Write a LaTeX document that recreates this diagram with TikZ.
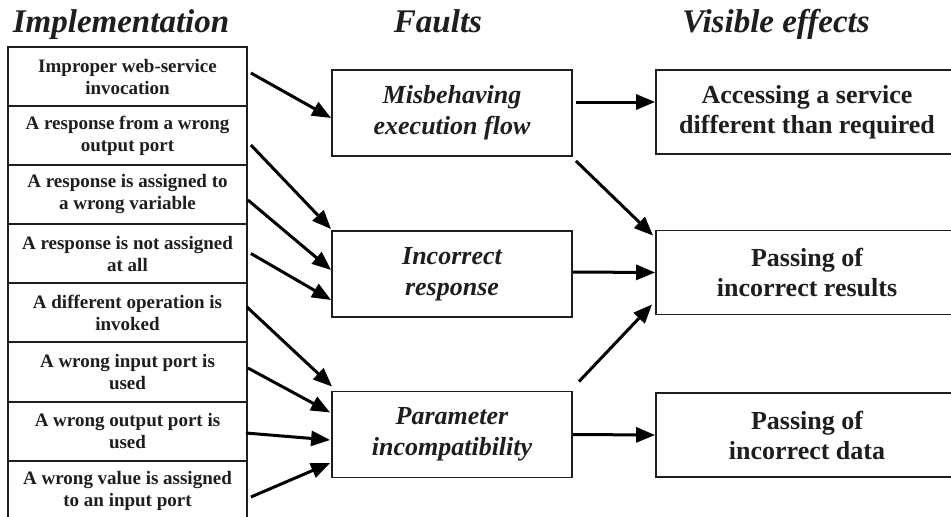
\documentclass[tikz,border=0pt]{standalone}
\usepackage{fontspec}
\setmainfont{Liberation Serif}
\usetikzlibrary{arrows.meta}
\definecolor{ink}{HTML}{1E1E1E}
\tikzset{
  implbox/.style={draw=ink, line width=1.8pt, minimum width=239pt, minimum height=59pt, inner sep=0pt, align=center, text=ink, font=\fontsize{19}{22}\selectfont\bfseries},
  faultbox/.style={draw=ink, line width=1.8pt, minimum width=240pt, minimum height=86pt, inner sep=0pt, align=center, text=ink, font=\fontsize{26}{31}\selectfont\bfseries\itshape},
  effectbox/.style={draw=ink, line width=1.8pt, minimum width=302pt, minimum height=84pt, inner sep=0pt, align=center, text=ink, font=\fontsize{26}{30}\selectfont\bfseries},
  header/.style={anchor=base, text=ink, font=\fontsize{33}{38}\selectfont\bfseries\itshape, inner sep=0pt},
  conn/.style={-{Triangle[length=19pt,width=15pt]}, line width=3pt, black}
}
\begin{document}
\begin{tikzpicture}[x=1pt,y=-1pt]
\useasboundingbox (0,0) rectangle (951,517);
\clip (0,0) rectangle (951,517);
\fill[white] (0,0) rectangle (951,517);

% headers
\node[header] (h1) at (121,32) {Implementation};
\node[header] (h2) at (438,32) {Faults};
\node[header] (h3) at (776,32) {Visible effects};

% implementation boxes
\node[implbox] (l1) at (127.5,76.5) {Improper web-service\\invocation};
\node[implbox] (l2) at (127.5,135.5) {A response from a wrong\\output port};
\node[implbox] (l3) at (127.5,194.5) {A response is assigned to\\a wrong variable};
\node[implbox] (l4) at (127.5,253.5) {A response is not assigned\\at all};
\node[implbox] (l5) at (127.5,312.5) {A different operation is\\invoked};
\node[implbox] (l6) at (127.5,372) {A wrong input port is\\used};
\node[implbox] (l7) at (127.5,431.5) {A wrong output port is\\used};
\node[implbox] (l8) at (127.5,490.5) {A wrong value is assigned\\to an input port};

% fault boxes
\node[faultbox] (m) at (452,113) {Misbehaving\\execution flow};
\node[faultbox] (r) at (452,274) {Incorrect\\response};
\node[faultbox] (p) at (452,434.5) {Parameter\\incompatibility};

% effect boxes
\node[effectbox] (acc) at (807,112) {Accessing a service\\different than required};
\node[effectbox] (res) at (807,272.5) {Passing of\\incorrect results};
\node[effectbox] (dat) at (807,435) {Passing of\\incorrect data};

% implementation -> faults
\draw[conn] ([shift={(3,-3.5)}]l1.east) -- ([shift={(0,5)}]m.west);
\draw[conn] ([shift={(3,9.5)}]l2.east) -- ([shift={(0,-1)}]r.north west);
\draw[conn] ([shift={(0,5.5)}]l3.east) -- ([shift={(0,-4)}]r.west);
\draw[conn] ([shift={(3,0)}]l4.east) -- ([shift={(0,26)}]r.west);
\draw[conn] ([shift={(-1,-5.5)}]l5.east) -- ([shift={(1,-4)}]p.north west);
\draw[conn] ([shift={(0,-4)}]l6.east) -- ([shift={(-1,-22)}]p.west);
\draw[conn] ([shift={(-2,1.5)}]l7.east) -- ([shift={(-1,5.5)}]p.west);
\draw[conn] ([shift={(3,6.5)}]l8.east) -- ([shift={(-1,28.5)}]p.west);

% faults -> effects
\draw[conn] ([shift={(3,-11)}]m.east) -- ([shift={(0,-10)}]acc.west);
\draw[conn] ([shift={(3,4)}]m.south east) -- ([shift={(-2,6)}]res.north west);
\draw[conn] ([shift={(0,-2)}]r.east) -- (res.west);
\draw[conn] ([shift={(6,-9)}]p.north east) -- ([shift={(-3,-11)}]res.south west);
\draw[conn] (p.east) -- (dat.west);
\end{tikzpicture}
\end{document}
